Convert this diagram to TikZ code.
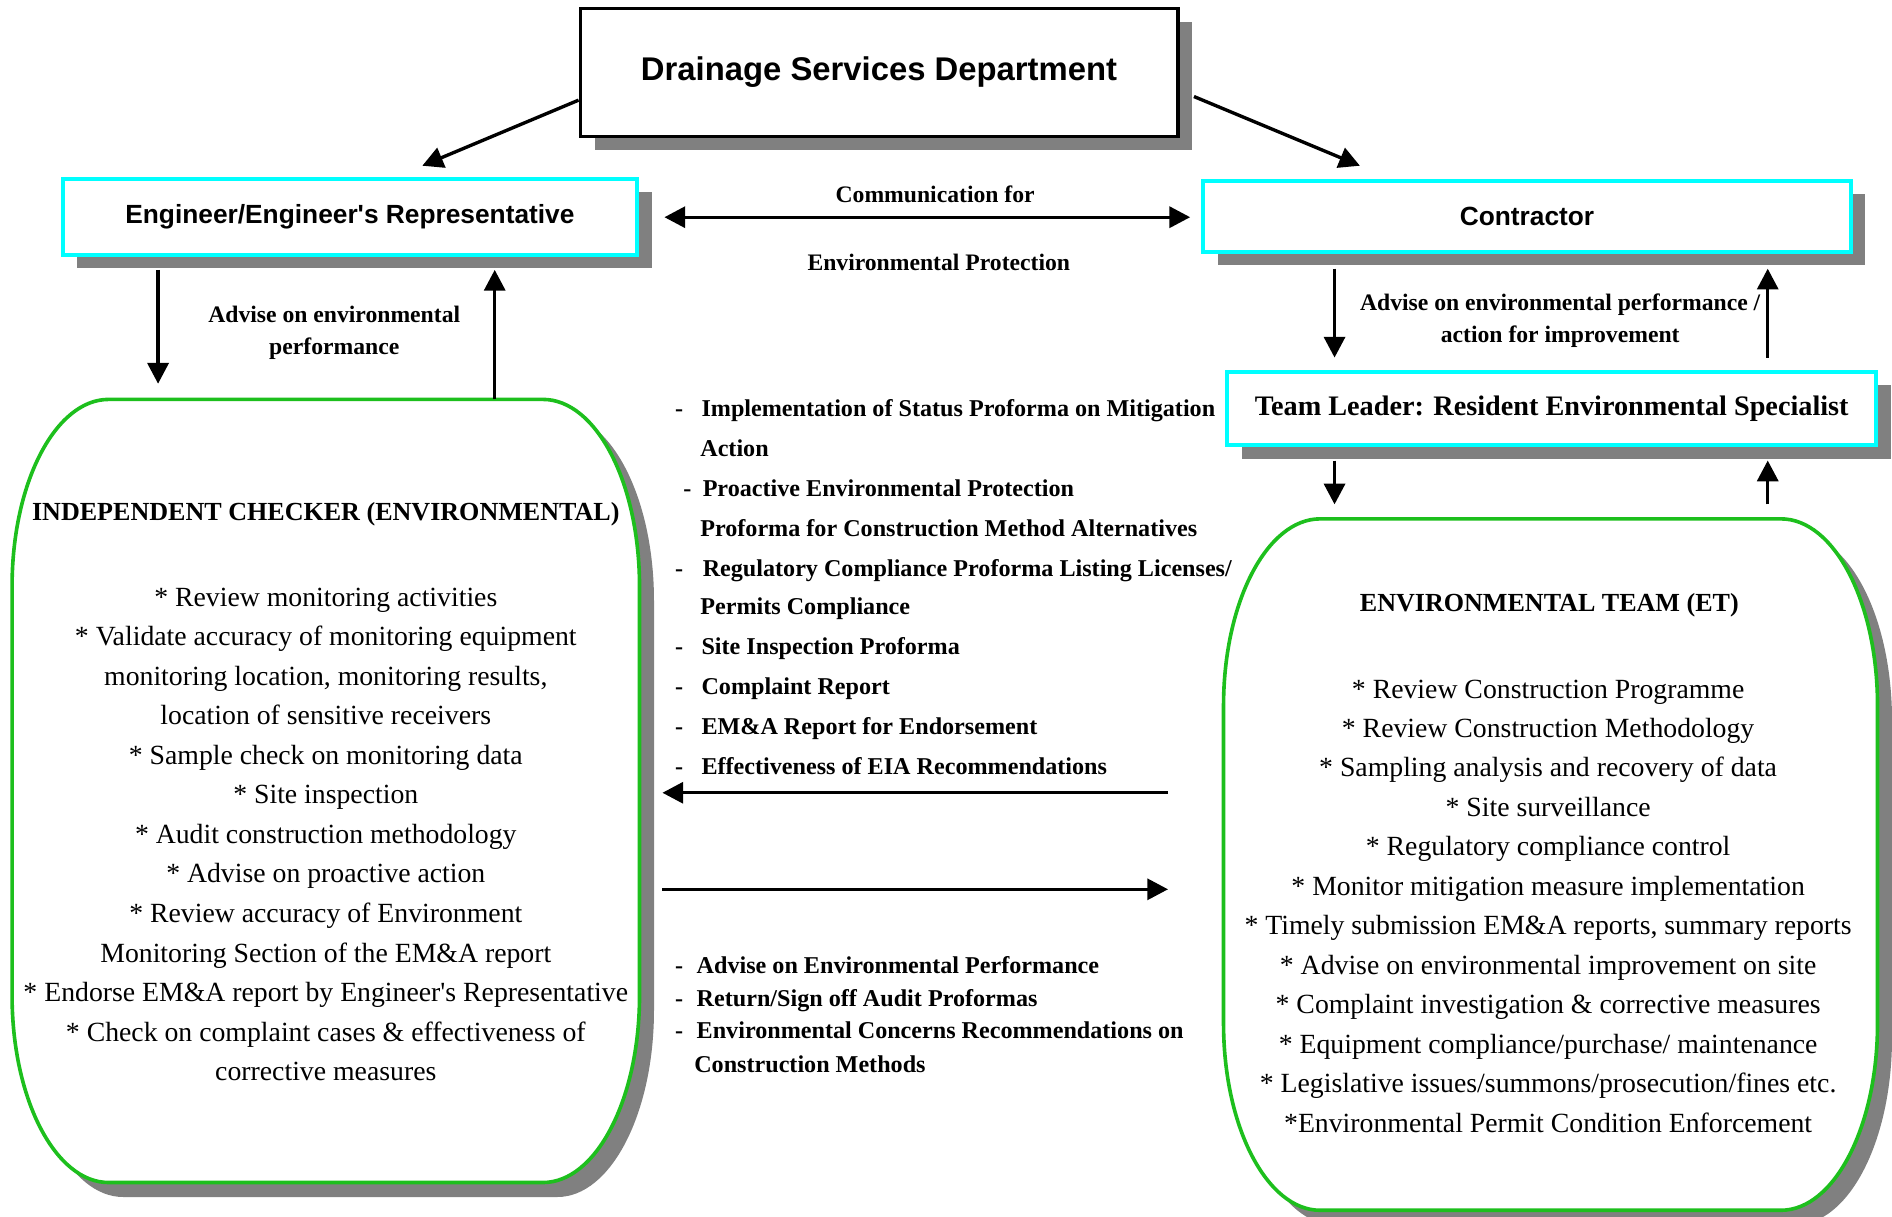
\documentclass[tikz,border=0pt]{standalone}
\usepackage{fontspec}
\setmainfont{Liberation Serif}
\setsansfont{Liberation Sans}
\usetikzlibrary{arrows.meta,calc,shadows}
\definecolor{boxcyan}{HTML}{00FFFF}
\definecolor{boxgreen}{HTML}{1DBF1D}
\definecolor{shadowgray}{HTML}{808080}
% rounded outline: x0,y0,x1,y1
\newcommand{\roundpath}[4]{(#1+80,#2) -- (#3-80,#2) .. controls (#3-36,#2) and (#3,#2+69) .. (#3,#2+155) -- (#3,#4-155) .. controls (#3,#4-69) and (#3-36,#4) .. (#3-80,#4) -- (#1+80,#4) .. controls (#1+36,#4) and (#1,#4-69) .. (#1,#4-155) -- (#1,#2+155) .. controls (#1,#2+69) and (#1+36,#2) .. (#1+80,#2) -- cycle}
\begin{document}
\begin{tikzpicture}[x=0.5pt,y=-0.5pt,
	arr/.style={line width=1.4pt,-{Triangle[length=8.6pt,width=8.7pt]}},
	dblarr/.style={line width=1.4pt,{Triangle[length=8.6pt,width=8.7pt]}-{Triangle[length=8.6pt,width=8.7pt]}},
	shade/.style={drop shadow={shadow xshift=6pt,shadow yshift=-5.5pt,fill=shadowgray,opacity=1}},
	blackbox/.style={draw,line width=1.5pt,fill=white,inner sep=0pt,shade,font=\sffamily\bfseries\fontsize{13.6}{16}\selectfont},
	cyanbox/.style={draw=boxcyan,line width=1.65pt,fill=white,inner sep=0pt,shade},
	labeltext/.style={anchor=base,inner sep=0pt,font=\bfseries\fontsize{9.8}{12}\selectfont},
	listtext/.style={anchor=base west,inner sep=0pt,font=\bfseries\fontsize{10}{12}\selectfont},
	headtext/.style={anchor=base,inner sep=0pt,font=\bfseries\fontsize{10.8}{13}\selectfont},
	bodytext/.style={anchor=base,inner sep=0pt,font=\fontsize{11.5}{14}\selectfont}]
		\useasboundingbox (0,0) rectangle (1568,1008);
		
		\node[blackbox,minimum width=247.5pt,minimum height=53pt] (dsd) at (728.5,60) {Drainage Services Department};
		\node[cyanbox,minimum width=238pt,minimum height=31.5pt,font=\sffamily\bfseries\fontsize{10.9}{13}\selectfont] (eng) at (290,179.5) {Engineer/Engineer\textquotesingle s Representative};
		\node[cyanbox,minimum width=268.5pt,minimum height=29.5pt,font=\sffamily\bfseries\fontsize{10.9}{13}\selectfont] (con) at (1265.5,179.5) {Contractor};
		\node[cyanbox,minimum width=269pt,minimum height=30.5pt,font=\bfseries\fontsize{11.7}{14}\selectfont] (tl) at (1286,338.5) {Team Leader: Resident Environmental Specialist};
		
		% rounded boxes
		\coordinate (icnw) at (10,331);
		\coordinate (etnw) at (1014,430);
		\fill[shadowgray,shift={(12,12)}] \roundpath{10}{331}{530}{980};
		\draw[boxgreen,line width=1.5pt,fill=white] \roundpath{10}{331}{530}{980};
		\fill[shadowgray,shift={(12,12)}] \roundpath{1014}{430}{1556}{1003};
		\draw[boxgreen,line width=1.5pt,fill=white] \roundpath{1014}{430}{1556}{1003};
		
		% arrows
		\draw[arr] ($(dsd.west)+(0,23)$) -- ($(eng.north)+(60,-9)$);
		\draw[arr] ($(dsd.east)+(12,20)$) -- ($(con.north)+(-138.5,-11)$);
		\draw[dblarr] ($(eng.east)+(21,0.5)$) -- ($(con.west)+(-9,0.5)$);
		\draw[arr] ($(eng.south)+(-159,11)$) -- ($(icnw)+(121,-13)$);
		\draw[arr] ($(icnw)+(400,0)$) -- ($(eng.south)+(120,11)$);
		\draw[arr] ($(con.south)+(-159.5,12)$) -- ($(tl.north)+(-180,-10)$);
		\draw[arr] ($(tl.north)+(179,-10)$) -- ($(con.south)+(199.5,12)$);
		\draw[arr] ($(tl.south)+(-180,11)$) -- ($(etnw)+(92,-12)$);
		\draw[arr] ($(etnw)+(451,-12)$) -- ($(tl.south)+(179,11)$);
		\draw[arr] ($(etnw)+(-46,227)$) -- ($(icnw)+(539,326)$);
		\draw[arr] ($(icnw)+(539,406)$) -- ($(etnw)+(-46,307)$);
		
		% labels
		\node[labeltext] (comm1) at (775,168) {Communication for};
		\node[labeltext] (comm2) at (778,224) {Environmental Protection};
		\node[labeltext] (adv1) at (277,267) {Advise on environmental};
		\node[labeltext] (adv2) at (277,294) {performance};
		\node[labeltext] (adv3) at (1293,257) {Advise on environmental performance /};
		\node[labeltext] (adv4) at (1293,284) {action for improvement};
		
		% documents to the checker
		\foreach \yy in {345.5,477.5,542.5,575.5,608.5,641.5}
			{\node[listtext] at (559,\yy) {-};}
		\node[listtext] at (566,411.5) {-};
		\node[listtext] (m1) at (581,345.5) {Implementation of Status Proforma on Mitigation};
		\node[listtext] (m2) at (580,378.5) {Action};
		\node[listtext] (m3) at (582,411.5) {Proactive Environmental Protection};
		\node[listtext] (m4) at (580,444.5) {Proforma for Construction Method Alternatives};
		\node[listtext] (m5) at (582,477.5) {Regulatory Compliance Proforma Listing Licenses/};
		\node[listtext] (m6) at (580,509.5) {Permits Compliance};
		\node[listtext] (m7) at (581,542.5) {Site Inspection Proforma};
		\node[listtext] (m8) at (581,575.5) {Complaint Report};
		\node[listtext] (m9) at (581,608.5) {EM\&A Report for Endorsement};
		\node[listtext] (m10) at (581,641.5) {Effectiveness of EIA Recommendations};
		
		% returns to the team
		\foreach \yy in {806.5,834.5,860.5}
			{\node[listtext] at (559,\yy) {-};}
		\node[listtext] (r1) at (577,806.5) {Advise on Environmental Performance};
		\node[listtext] (r2) at (577,834.5) {Return/Sign off Audit Proformas};
		\node[listtext] (r3) at (577,860.5) {Environmental Concerns Recommendations on};
		\node[listtext] (r4) at (575,888.5) {Construction Methods};
		
		% independent checker
		\node[headtext] (ichead) at (270,431) {INDEPENDENT CHECKER (ENVIRONMENTAL)};
		\foreach [count=\i] \t in {* Review monitoring activities,
				* Validate accuracy of monitoring equipment,
				{monitoring location, monitoring results,},
				location of sensitive receivers,
				* Sample check on monitoring data,
				* Site inspection,
				* Audit construction methodology,
				* Advise on proactive action,
				* Review accuracy of Environment,
				Monitoring Section of the EM\&A report,
				* Endorse EM\&A report by Engineer\textquotesingle s Representative,
				* Check on complaint cases \& effectiveness of,
				corrective measures}
			{\node[bodytext] (ic\i) at (270,502.5+32.75*\i-32.75) {\t};}
		
		% environmental team
		\node[headtext] (ethead) at (1284,507) {ENVIRONMENTAL TEAM (ET)};
		\foreach [count=\i] \t in {* Review Construction Programme,
				* Review Construction Methodology,
				* Sampling analysis and recovery of data,
				* Site surveillance,
				* Regulatory compliance control,
				* Monitor mitigation measure implementation,
				{* Timely submission EM\&A reports, summary reports},
				* Advise on environmental improvement on site,
				* Complaint investigation \& corrective measures,
				* Equipment compliance/purchase/ maintenance,
				* Legislative issues/summons/prosecution/fines etc.,
				*Environmental Permit Condition Enforcement}
			{\node[bodytext] (et\i) at (1283,578.5+32.7*\i-32.7) {\t};}
\end{tikzpicture}
\end{document}
